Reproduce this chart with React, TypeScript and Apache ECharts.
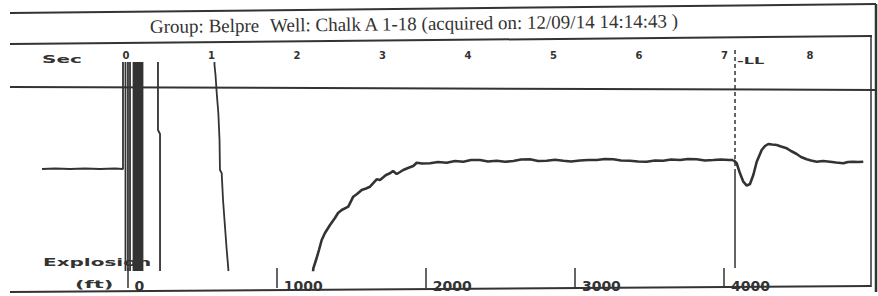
import React, { useEffect, useRef } from 'react';
import * as echarts from 'echarts';

// ---- axis ticks ----
const secTicks = [0, 1, 2, 3, 4, 5, 6, 7, 8];
const ftTicks = [0, 1000, 2000, 3000, 4000];

// ---- trace data: [time (sec), amplitude] ; +/-150 = off scale (clipped) ----
const baselineAndShot: [number, number][] = [
  [-0.982, -4], [-0.83, -3.5], [-0.655, -4], [-0.48, -3.5], [-0.304, -4], [-0.129, -3.5], [-0.035, -4],
  [-0.035, 150], [-0.006, 150], [-0.006, -150], [0.023, -150], [0.023, 150], [0.047, 150], [0.047, -150],
  [0.088, -150], [0.088, 150], [0.105, 150], [0.105, -150], [0.123, -150], [0.123, 150], [0.14, 150],
  [0.14, -150], [0.158, -150], [0.158, 150], [0.175, 150], [0.175, -150], [0.193, -150], [0.193, 150],
  [0.374, 150], [0.374, 35], [0.398, 31], [0.398, -150],
];

const fallTrace: [number, number][] = [
  [1.032, 150], [1.035, 100], [1.047, 90], [1.061, 72], [1.08, 52], [1.094, 25], [1.099, -5],
  [1.119, -8], [1.135, -35], [1.158, -62], [1.178, -85], [1.196, -103], [1.2, -110],
];

const recoveryTrace: [number, number][] = [
  [2.185, -110], [2.191, -103.3], [2.23, -93], [2.257, -85], [2.289, -75], [2.327, -68], [2.386, -60],
  [2.444, -53], [2.48, -48], [2.523, -45], [2.6, -41.7], [2.658, -31.7], [2.702, -29], [2.757, -25],
  [2.807, -23.5], [2.854, -21.7], [2.932, -14.3], [2.971, -15], [3.009, -12.3], [3.041, -10],
  [3.088, -8.3], [3.123, -6], [3.166, -9], [3.205, -7], [3.243, -5], [3.298, -3], [3.36, -1],
  [3.4, 2.3], [3.462, 1.5], [3.556, 1.7], [3.649, 3], [3.751, 2.3], [3.848, 4], [3.945, 3.3],
  [4.035, 5], [4.14, 5], [4.234, 3.5], [4.336, 4.3], [4.433, 3.2], [4.53, 4], [4.62, 5.5],
  [4.725, 5.7], [4.819, 4], [4.92, 4.3], [5.018, 5.2], [5.115, 4.3], [5.205, 3.5], [5.31, 4.5],
  [5.404, 5], [5.505, 5], [5.602, 6], [5.7, 5.7], [5.789, 4.5], [5.895, 4.3], [5.988, 3.5],
  [6.09, 3.3], [6.187, 4.5], [6.284, 4.3], [6.374, 5.5], [6.48, 5], [6.573, 6], [6.675, 5.7],
  [6.772, 4.5], [6.869, 5], [6.959, 5.5], [7.053, 5], [7.103, 5],
];

const echoTrace: [number, number][] = [
  [7.103, 5], [7.143, 1.7], [7.181, -8.3], [7.22, -16.7], [7.26, -20.7], [7.298, -19], [7.337, -10],
  [7.377, 3.3], [7.435, 15], [7.474, 19], [7.512, 21], [7.556, 20.5], [7.611, 20], [7.661, 18.5],
  [7.728, 16.7], [7.778, 14], [7.844, 11], [7.895, 8], [7.961, 5.7], [8.012, 4.5], [8.078, 3.3],
  [8.152, 4], [8.234, 3.3], [8.304, 2.5], [8.39, 1.7], [8.444, 3], [8.506, 3.3], [8.561, 3], [8.623, 3.3],
];

const liquidLevelSec = 7.123;
const liquidLevelDashed: [number, number][] = [[liquidLevelSec, 115], [liquidLevelSec, -7]];
const liquidLevelSolid: [number, number][] = [[liquidLevelSec, -7], [liquidLevelSec, -103]];

const titleGroup = 'Group: Belpre';
const titleWell = 'Well: Chalk A 1-18 (acquired on: 12/09/14 14:14:43 )';

const INK = '#333333';
const SEC_MIN = -1.3567;
const SEC_MAX = 8.7135;
const FT_MIN = -788.7;
const FT_MAX = 4985.9;

export default function App() {
  const ref = useRef<HTMLDivElement>(null);

  useEffect(() => {
    const chart = echarts.init(ref.current!, null, { renderer: 'svg' });
    const blocky = { fontFamily: 'DejaVu Sans', fontWeight: 'bold' as const, fill: INK };
    const frame = (x1: number, y1: number, x2: number, y2: number, w: number) => ({
      type: 'line',
      shape: { x1, y1, x2, y2 },
      style: { stroke: INK, lineWidth: w },
      silent: true,
    });
    const option: any = {
      animation: false,
      backgroundColor: '#ffffff',
      grid: { left: 10, right: 7, top: 63, bottom: 26 },
      xAxis: [
        {
          type: 'value',
          position: 'top',
          min: SEC_MIN,
          max: SEC_MAX,
          axisLine: { show: false },
          axisTick: { show: false },
          splitLine: { show: false },
          axisLabel: {
            customValues: secTicks,
            margin: 3,
            color: INK,
            fontFamily: 'DejaVu Sans',
            fontWeight: 'bold',
            fontSize: 10,
          },
        },
        {
          type: 'value',
          position: 'bottom',
          offset: 18,
          min: FT_MIN,
          max: FT_MAX,
          axisLine: { show: false },
          splitLine: { show: false },
          axisTick: {
            show: true,
            inside: true,
            length: 20,
            customValues: ftTicks,
            lineStyle: { color: INK, width: 1.5 },
          },
          axisLabel: {
            customValues: ftTicks,
            formatter: (v: number) => String(v),
            inside: true,
            margin: -5,
            align: 'left',
            padding: [0, 0, 0, 7],
            color: INK,
            fontFamily: 'DejaVu Sans',
            fontWeight: 'bold',
            fontSize: 14,
          },
        },
      ],
      yAxis: { type: 'value', min: -105, max: 102, show: false },
      graphic: [
        frame(10, 13, 876, 4, 2),
        frame(10, 44, 872, 36, 2),
        frame(10, 87, 877, 90, 2),
        frame(10, 292, 871, 286, 2),
        frame(871, 36, 871, 287, 1.5),
        frame(876, 4, 876, 292, 2.5),
        {
          type: 'text', x: 150, y: 26.5, rotation: 0.011, silent: true,
          style: { text: titleGroup, fontFamily: 'Liberation Serif', fontSize: 19, fill: INK, verticalAlign: 'middle' },
        },
        {
          type: 'text', x: 270, y: 25.2, rotation: 0.011, silent: true,
          style: { text: titleWell, fontFamily: 'Liberation Serif', fontSize: 19, fill: INK, verticalAlign: 'middle' },
        },
        {
          type: 'text', x: 42, y: 60, scaleX: 2.0, silent: true,
          style: { ...blocky, text: 'Sec', fontSize: 10, verticalAlign: 'middle' },
        },
        {
          type: 'text', x: 43, y: 263, scaleX: 2.0, silent: true,
          style: { ...blocky, text: 'Explosion', fontSize: 10, verticalAlign: 'middle' },
        },
        {
          type: 'text', x: 75, y: 285, scaleX: 2.1, silent: true,
          style: { ...blocky, text: '(ft)', fontSize: 10, verticalAlign: 'middle' },
        },
        {
          type: 'text', x: 737, y: 61, scaleX: 1.8, silent: true,
          style: { ...blocky, text: '-LL', fontSize: 9, verticalAlign: 'middle' },
        },
      ],
      series: [
        {
          type: 'line', data: baselineAndShot, showSymbol: false, symbol: 'none', clip: true,
          lineStyle: { color: INK, width: 1.8 },
        },
        {
          type: 'line', data: fallTrace, showSymbol: false, symbol: 'none', clip: true,
          lineStyle: { color: INK, width: 1.8 },
        },
        {
          type: 'line', data: recoveryTrace, showSymbol: false, symbol: 'none', clip: true,
          lineStyle: { color: INK, width: 2.6 },
        },
        {
          type: 'line', data: echoTrace, showSymbol: false, symbol: 'none', clip: true,
          lineStyle: { color: INK, width: 2.6 },
        },
        {
          type: 'line', data: liquidLevelDashed, showSymbol: false, symbol: 'none', clip: false,
          lineStyle: { color: INK, width: 1.5, type: [4, 3] },
        },
        {
          type: 'line', data: liquidLevelSolid, showSymbol: false, symbol: 'none', clip: false,
          lineStyle: { color: INK, width: 1.5 },
        },
      ],
    };
    chart.setOption(option);
    return () => chart.dispose();
  }, []);

  return (
    <div
      ref={ref}
      style={{ position: 'fixed', left: 0, top: 0, width: 878, height: 296, background: '#fff' }}
    />
  );
}
